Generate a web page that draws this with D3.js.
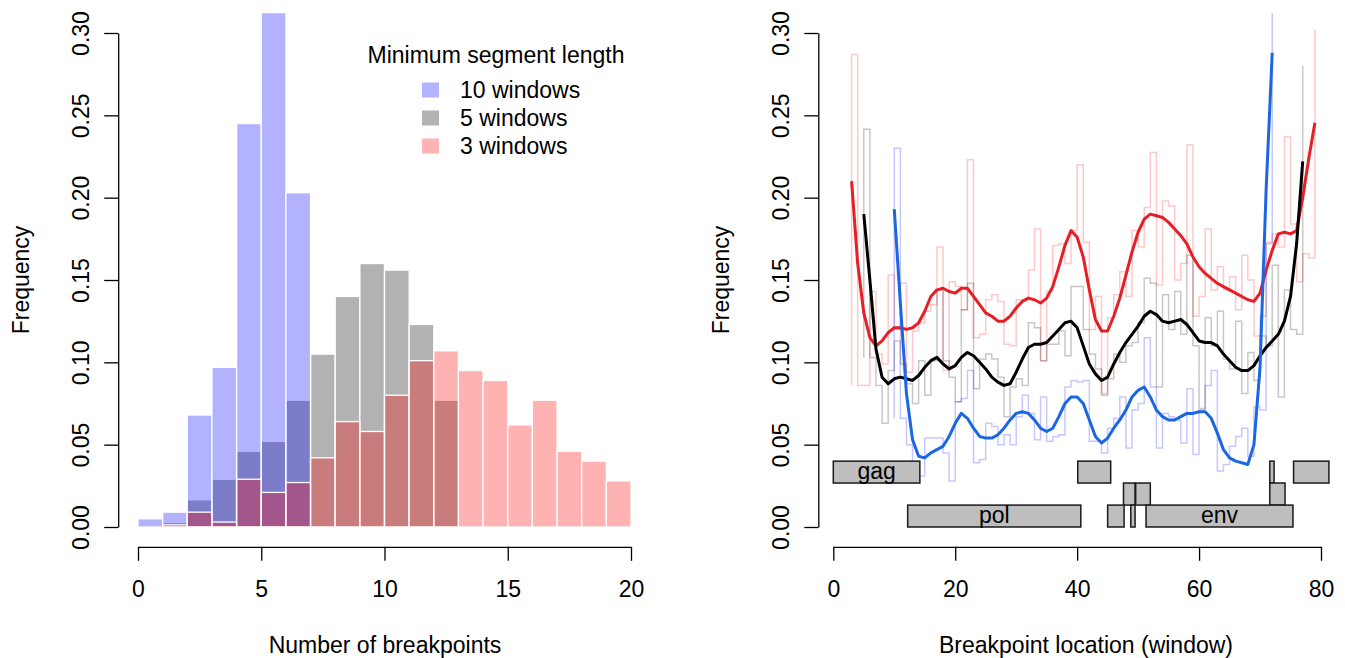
<!DOCTYPE html>
<html><head><meta charset="utf-8">
<script src="https://cdn.jsdelivr.net/npm/d3@7"></script>
<style>
body{margin:0;background:#fff}
text{font-family:"Liberation Sans",Arial,Helvetica,sans-serif;fill:#000}
</style></head>
<body><svg id="c" width="1345" height="658"></svg>
<script>
// ---------- data: left panel (histogram of number of breakpoints) ----------
const binStarts = d3.range(0, 20);
const freq10 = [0.005,0.009,0.068,0.097,0.245,0.33,0.203,0,0,0,0,0,0,0,0,0,0,0,0,0];
const freq5  = [0,0.0027,0.0165,0.029,0.046,0.052,0.077,0.105,0.140,0.160,0.156,0.123,0.077,0,0,0,0,0,0,0];
const freq3  = [0,0.0013,0.009,0.003,0.029,0.021,0.027,0.042,0.064,0.058,0.080,0.101,0.107,0.095,0.089,0.062,0.077,0.046,0.040,0.028];
const legendTitle = "Minimum segment length";
const legendLabels = ["10 windows","5 windows","3 windows"];
const xTicksLeft = [0,5,10,15,20];
const yTicks = [0,0.05,0.10,0.15,0.20,0.25,0.30];

// ---------- data: right panel (breakpoint location) ----------
const start10 = 10, start5 = 5, start3 = 3;
const step10 = [0.230,0.066,0.050,0.031,0.031,0.054,0.054,0.054,0.045,0.028,0.076,0.078,0.095,0.039,0.041,0.063,0.061,0.050,0.056,0.050,0.067,0.080,0.069,0.053,0.079,0.052,0.055,0.056,0.085,0.089,0.088,0.089,0.052,0.052,0.045,0.060,0.066,0.079,0.048,0.071,0.075,0.115,0.085,0.048,0.069,0.067,0.065,0.051,0.084,0.044,0.071,0.086,0.095,0.034,0.038,0.049,0.055,0.060,0.043,0.073,0.071,0.172,0.34];
const step5 = [0.2415,0.103,0.086,0.063,0.095,0.113,0.099,0.087,0.075,0.101,0.080,0.101,0.144,0.101,0.091,0.076,0.132,0.148,0.084,0.102,0.105,0.102,0.091,0.067,0.085,0.090,0.086,0.124,0.121,0.101,0.111,0.111,0.119,0.104,0.146,0.146,0.120,0.105,0.096,0.080,0.090,0.105,0.100,0.110,0.112,0.124,0.151,0.148,0.085,0.141,0.120,0.143,0.117,0.165,0.110,0.072,0.127,0.110,0.131,0.102,0.096,0.125,0.081,0.106,0.089,0.116,0.110,0.159,0.079,0.144,0.120,0.117,0.280];
const step3 = [0.287,0.086,0.086,0.143,0.105,0.099,0.153,0.120,0.148,0.094,0.119,0.124,0.131,0.135,0.170,0.095,0.149,0.146,0.132,0.223,0.115,0.117,0.138,0.141,0.137,0.111,0.110,0.138,0.138,0.156,0.181,0.101,0.143,0.171,0.172,0.160,0.180,0.220,0.173,0.120,0.140,0.081,0.127,0.141,0.155,0.140,0.180,0.170,0.194,0.2275,0.147,0.198,0.195,0.150,0.160,0.232,0.128,0.140,0.181,0.144,0.158,0.144,0.152,0.132,0.165,0.150,0.116,0.128,0.173,0.178,0.170,0.237,0.184,0.149,0.166,0.1635,0.302];
const smooth10 = [0.193,0.136,0.081,0.053,0.043,0.042,0.045,0.047,0.049,0.055,0.063,0.069,0.066,0.060,0.055,0.054,0.054,0.056,0.060,0.065,0.069,0.070,0.069,0.065,0.060,0.058,0.060,0.067,0.075,0.079,0.079,0.075,0.065,0.055,0.051,0.054,0.060,0.065,0.071,0.079,0.083,0.085,0.079,0.071,0.067,0.065,0.065,0.067,0.069,0.069,0.070,0.070,0.066,0.057,0.047,0.042,0.040,0.039,0.038,0.050,0.097,0.205,0.288];
const smooth5 = [0.190,0.150,0.108,0.091,0.087,0.090,0.091,0.090,0.089,0.092,0.097,0.101,0.103,0.099,0.096,0.098,0.103,0.106,0.104,0.100,0.096,0.091,0.088,0.086,0.087,0.094,0.102,0.109,0.111,0.111,0.112,0.116,0.120,0.124,0.125,0.121,0.110,0.099,0.093,0.089,0.091,0.099,0.106,0.112,0.117,0.122,0.128,0.131,0.129,0.125,0.124,0.125,0.126,0.123,0.118,0.113,0.112,0.112,0.110,0.105,0.101,0.097,0.095,0.095,0.098,0.104,0.109,0.113,0.117,0.125,0.140,0.172,0.222];
const smooth3 = [0.210,0.160,0.130,0.115,0.110,0.113,0.118,0.121,0.121,0.120,0.121,0.124,0.131,0.140,0.144,0.145,0.143,0.142,0.145,0.145,0.140,0.135,0.130,0.128,0.125,0.125,0.128,0.133,0.137,0.139,0.138,0.136,0.139,0.146,0.158,0.171,0.180,0.176,0.164,0.144,0.126,0.119,0.119,0.128,0.139,0.153,0.167,0.179,0.187,0.190,0.189,0.188,0.185,0.181,0.177,0.172,0.164,0.158,0.154,0.151,0.148,0.146,0.144,0.142,0.140,0.138,0.137,0.142,0.156,0.168,0.178,0.179,0.178,0.180,0.200,0.224,0.2455];
const geneNames  = ["gag","","","",  "","","",  "pol","","","env"];
const geneStarts = [0,40.1,71.6,75.5, 47.6,49.6,71.6, 12.2,45.0,48.8,51.3];
const geneEnds   = [14.2,45.5,72.3,81.3, 49.5,52.0,74.1, 40.6,47.7,49.5,75.4];
const geneRows   = [0,0,0,0, 1,1,1, 2,2,2,2];
const rowBounds  = [[0.0267,0.040],[0.0133,0.0267],[0,0.0133]];
const xTicksRight = [0,20,40,60,80];

// ---------- drawing ----------
const svg = d3.select("#c");
const FS = 23;
const y = d3.scaleLinear().domain([0,0.30]).range([527,33]);
const yTop = y(0.312), yBot = y(-0.012);
const xL = d3.scaleLinear().domain([0,20]).range([138,631]);
const xR = d3.scaleLinear().domain([0,80]).range([833.3,1321]);

const defs = svg.append("defs");
defs.append("clipPath").attr("id","clipL").append("rect")
  .attr("x",118).attr("y",yTop).attr("width",535).attr("height",yBot-yTop);
defs.append("clipPath").attr("id","clipR").append("rect")
  .attr("x",818).attr("y",yTop).attr("width",527).attr("height",yBot-yTop);

function yAxis(xpos){
  const g = svg.append("g").attr("transform",`translate(${xpos},0)`)
    .call(d3.axisLeft(y).tickValues(yTicks).tickSize(14).tickSizeOuter(0).tickFormat(d3.format(".2f")));
  g.select(".domain").attr("stroke","#000").attr("stroke-width",1.3);
  g.selectAll(".tick line").attr("stroke","#000").attr("stroke-width",1.3);
  g.selectAll(".tick text").attr("transform","rotate(-90)").attr("x",0).attr("y",-29).attr("dy",0)
    .attr("text-anchor","middle").style("font-size",FS+"px").style("font-family","Liberation Sans, Arial, sans-serif").attr("fill","#000");
}
function xAxis(scale, ticks){
  const g = svg.append("g").attr("transform",`translate(0,546.8)`)
    .call(d3.axisBottom(scale).tickValues(ticks).tickSize(14).tickSizeOuter(0).tickFormat(d3.format("d")));
  g.select(".domain").attr("stroke","#000").attr("stroke-width",1.3);
  g.selectAll(".tick line").attr("stroke","#000").attr("stroke-width",1.3);
  g.selectAll(".tick text").attr("y",50).attr("dy",0)
    .style("font-size",FS+"px").style("font-family","Liberation Sans, Arial, sans-serif").attr("fill","#000");
}

// Left histogram (drawn gray, then blue, then red, each 30% opaque)
const histL = svg.append("g").attr("clip-path","url(#clipL)");
const series = [
  {vals:freq5,  color:"#000000"},
  {vals:freq10, color:"#0000ff"},
  {vals:freq3,  color:"#ff0000"}
];
series.forEach(s=>{
  histL.append("g").selectAll("rect").data(binStarts.map((b,i)=>({b, v:s.vals[i]})).filter(d=>d.v>0))
    .enter().append("rect")
    .attr("x",d=>xL(d.b)).attr("width",d=>xL(d.b+1)-xL(d.b))
    .attr("y",d=>y(d.v)).attr("height",d=>y(0)-y(d.v))
    .attr("fill",s.color).attr("fill-opacity",0.3)
    .attr("stroke","#fff").attr("stroke-width",1.3);
});
yAxis(118.2);
xAxis(xL, xTicksLeft);
svg.append("text").attr("x",385).attr("y",653).attr("text-anchor","middle").style("font-size",FS+"px").text("Number of breakpoints");
svg.append("text").attr("transform","translate(29,280) rotate(-90)").attr("text-anchor","middle").style("font-size",FS+"px").text("Frequency");

// legend
svg.append("text").attr("x",496).attr("y",63).attr("text-anchor","middle").style("font-size",FS+"px").text(legendTitle);
const legCols = ["#b3b3ff","#b3b3b3","#ffb3b3"];
legendLabels.forEach((lab,i)=>{
  const cy = 90 + i*28;
  svg.append("rect").attr("x",422).attr("y",cy-7.5).attr("width",17).attr("height",15).attr("fill",legCols[i]);
  svg.append("text").attr("x",460).attr("y",cy+8).style("font-size",FS+"px").text(lab);
});

// Right panel
const plotR = svg.append("g").attr("clip-path","url(#clipR)");
const stepLine = d3.line().x(d=>xR(d[0])).y(d=>y(d[1])).curve(d3.curveStepAfter);
const smoothLine = d3.line().x(d=>xR(d[0])).y(d=>y(d[1]));
function stepPts(start, vals){
  const pts = vals.map((v,i)=>[start+i, v]);
  return [[start, vals[1]]].concat(pts);
}
const stepSeries = [
  {start:start3, vals:step3, color:"rgba(255,0,0,0.22)"},
  {start:start5, vals:step5, color:"rgba(0,0,0,0.22)"},
  {start:start10, vals:step10, color:"rgba(0,0,255,0.22)"}
];
stepSeries.forEach(s=>{
  plotR.append("path").attr("d",stepLine(stepPts(s.start,s.vals)))
    .attr("fill","none").attr("stroke",s.color).attr("stroke-width",1.5);
});
const smoothSeries = [
  {start:start3, vals:smooth3, color:"#e61e25"},
  {start:start5, vals:smooth5, color:"#000000"},
  {start:start10, vals:smooth10, color:"#1b66e3"}
];
smoothSeries.forEach(s=>{
  plotR.append("path").attr("d",smoothLine(s.vals.map((v,i)=>[s.start+i, v])))
    .attr("fill","none").attr("stroke",s.color).attr("stroke-width",3).attr("stroke-linejoin","round");
});
// gene boxes
const genes = geneNames.map((n,i)=>({n, s:geneStarts[i], e:geneEnds[i], r:geneRows[i]}));
const gG = svg.append("g");
gG.selectAll("rect").data(genes).enter().append("rect")
  .attr("x",d=>xR(d.s)).attr("width",d=>xR(d.e)-xR(d.s))
  .attr("y",d=>y(rowBounds[d.r][1])).attr("height",d=>y(rowBounds[d.r][0])-y(rowBounds[d.r][1]))
  .attr("fill","#bebebe").attr("stroke","#1a1a1a").attr("stroke-width",1.5);
gG.selectAll("text").data(genes.filter(d=>d.n)).enter().append("text")
  .attr("x",d=>xR((d.s+d.e)/2)).attr("y",d=>(y(rowBounds[d.r][0])+y(rowBounds[d.r][1]))/2+7)
  .attr("text-anchor","middle").style("font-size",FS+"px").text(d=>d.n);

yAxis(818.3);
xAxis(xR, xTicksRight);
svg.append("text").attr("x",1086).attr("y",653).attr("text-anchor","middle").style("font-size",FS+"px").text("Breakpoint location (window)");
svg.append("text").attr("transform","translate(729,280) rotate(-90)").attr("text-anchor","middle").style("font-size",FS+"px").text("Frequency");
</script></body></html>
